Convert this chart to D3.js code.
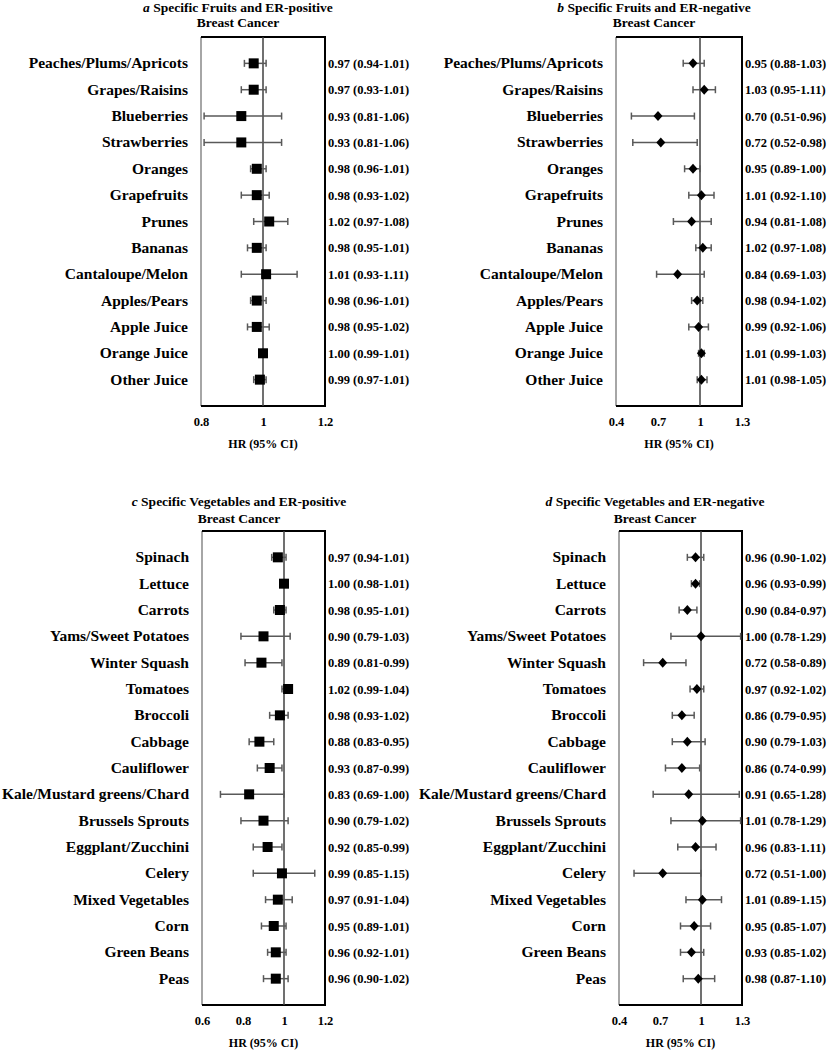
<!DOCTYPE html>
<html>
<head>
<meta charset="utf-8">
<script src="https://cdn.jsdelivr.net/npm/d3@7"></script>
<style>
  html, body { margin: 0; padding: 0; background: #fff; }
  svg text { font-family: "Liberation Serif", "Times New Roman", serif; font-weight: bold; fill: #000; }
</style>
</head>
<body>
<svg id="chart" width="827" height="1050"></svg>
<script>
// ---------- DATA ----------
const fruitLabels = ["Peaches/Plums/Apricots","Grapes/Raisins","Blueberries","Strawberries","Oranges","Grapefruits","Prunes","Bananas","Cantaloupe/Melon","Apples/Pears","Apple Juice","Orange Juice","Other Juice"];
const fruitPosHR = [0.97,0.97,0.93,0.93,0.98,0.98,1.02,0.98,1.01,0.98,0.98,1.00,0.99];
const fruitPosLo = [0.94,0.93,0.81,0.81,0.96,0.93,0.97,0.95,0.93,0.96,0.95,0.99,0.97];
const fruitPosHi = [1.01,1.01,1.06,1.06,1.01,1.02,1.08,1.01,1.11,1.01,1.02,1.01,1.01];
const fruitNegHR = [0.95,1.03,0.70,0.72,0.95,1.01,0.94,1.02,0.84,0.98,0.99,1.01,1.01];
const fruitNegLo = [0.88,0.95,0.51,0.52,0.89,0.92,0.81,0.97,0.69,0.94,0.92,0.99,0.98];
const fruitNegHi = [1.03,1.11,0.96,0.98,1.00,1.10,1.08,1.08,1.03,1.02,1.06,1.03,1.05];

const vegLabels = ["Spinach","Lettuce","Carrots","Yams/Sweet Potatoes","Winter Squash","Tomatoes","Broccoli","Cabbage","Cauliflower","Kale/Mustard greens/Chard","Brussels Sprouts","Eggplant/Zucchini","Celery","Mixed Vegetables","Corn","Green Beans","Peas"];
const vegPosHR = [0.97,1.00,0.98,0.90,0.89,1.02,0.98,0.88,0.93,0.83,0.90,0.92,0.99,0.97,0.95,0.96,0.96];
const vegPosLo = [0.94,0.98,0.95,0.79,0.81,0.99,0.93,0.83,0.87,0.69,0.79,0.85,0.85,0.91,0.89,0.92,0.90];
const vegPosHi = [1.01,1.01,1.01,1.03,0.99,1.04,1.02,0.95,0.99,1.00,1.02,0.99,1.15,1.04,1.01,1.01,1.02];
const vegNegHR = [0.96,0.96,0.90,1.00,0.72,0.97,0.86,0.90,0.86,0.91,1.01,0.96,0.72,1.01,0.95,0.93,0.98];
const vegNegLo = [0.90,0.93,0.84,0.78,0.58,0.92,0.79,0.79,0.74,0.65,0.78,0.83,0.51,0.89,0.85,0.85,0.87];
const vegNegHi = [1.02,0.99,0.97,1.29,0.89,1.02,0.95,1.03,0.99,1.28,1.29,1.11,1.00,1.15,1.07,1.02,1.10];

const ticksA = [0.8, 1, 1.2];
const ticksB = [0.4, 0.7, 1, 1.3];
const ticksC = [0.6, 0.8, 1, 1.2];
const ticksD = [0.4, 0.7, 1, 1.3];

const titleLetters = ["a","b","c","d"];
const titleLine1 = ["Specific Fruits and ER-positive","Specific Fruits and ER-negative","Specific Vegetables and ER-positive","Specific Vegetables and ER-negative"];
const titleLine2 = "Breast Cancer";
const xAxisTitle = "HR (95% CI)";

// ---------- LAYOUT ----------
const svg = d3.select("#chart");
const fmt = d3.format(".2f");

const panels = [
  {labels: fruitLabels, hr: fruitPosHR, lo: fruitPosLo, hi: fruitPosHi, ticks: ticksA, marker: "square",
   x0: 201, x1: 325, y0: 37, y1: 406, tcx: 238, t1: 12, t2: 27},
  {labels: fruitLabels, hr: fruitNegHR, lo: fruitNegLo, hi: fruitNegHi, ticks: ticksB, marker: "diamond",
   x0: 616, x1: 742, y0: 37, y1: 406, tcx: 654, t1: 12, t2: 27},
  {labels: vegLabels, hr: vegPosHR, lo: vegPosLo, hi: vegPosHi, ticks: ticksC, marker: "square",
   x0: 202, x1: 325, y0: 531, y1: 1005, tcx: 239, t1: 506, t2: 523},
  {labels: vegLabels, hr: vegNegHR, lo: vegNegLo, hi: vegNegHi, ticks: ticksD, marker: "diamond",
   x0: 619, x1: 742, y0: 531, y1: 1005, tcx: 655, t1: 506, t2: 523}
];

panels.forEach((p, pi) => {
  const g = svg.append("g");
  const dom = d3.extent(p.ticks);
  const x = d3.scaleLinear().domain(dom).range([p.x0, p.x1]);
  const idx = d3.range(-1, p.labels.length + 1);
  const y = d3.scalePoint().domain(idx).range([p.y0, p.y1]);

  // title
  const t = g.append("text").attr("x", p.tcx).attr("y", p.t1).attr("text-anchor", "middle").style("font-size", "13.5px");
  t.append("tspan").style("font-style", "italic").text(titleLetters[pi]);
  t.append("tspan").text(" " + titleLine1[pi]);
  g.append("text").attr("x", p.tcx).attr("y", p.t2).attr("text-anchor", "middle").style("font-size", "13.5px").text(titleLine2);

  // box: left grey, others black
  g.append("line").attr("x1", p.x0).attr("x2", p.x0).attr("y1", p.y0).attr("y2", p.y1)
    .attr("stroke", "#a6a6a6").attr("stroke-width", 2);
  g.append("path").attr("d", `M${p.x0},${p.y0}H${p.x1}V${p.y1}H${p.x0}`)
    .attr("fill", "none").attr("stroke", "#000").attr("stroke-width", 2);

  // reference line at HR = 1
  g.append("line").attr("x1", x(1)).attr("x2", x(1)).attr("y1", p.y0).attr("y2", p.y1)
    .attr("stroke", "#404040").attr("stroke-width", 1.5);

  const rows = p.labels.map((l, i) => ({label: l, hr: p.hr[i], lo: p.lo[i], hi: p.hi[i], i}));

  // error bars
  const eb = g.append("g").attr("stroke", "#595959").attr("stroke-width", 1.5);
  rows.forEach(r => {
    const yy = y(r.i);
    eb.append("line").attr("x1", x(r.lo)).attr("x2", x(r.hi)).attr("y1", yy).attr("y2", yy);
    eb.append("line").attr("x1", x(r.lo)).attr("x2", x(r.lo)).attr("y1", yy - 3.5).attr("y2", yy + 3.5);
    eb.append("line").attr("x1", x(r.hi)).attr("x2", x(r.hi)).attr("y1", yy - 3.5).attr("y2", yy + 3.5);
  });

  // markers
  rows.forEach(r => {
    const cx = x(r.hr), cy = y(r.i);
    if (p.marker === "square") {
      g.append("rect").attr("x", cx - 5).attr("y", cy - 5).attr("width", 10).attr("height", 10).attr("fill", "#000");
    } else {
      g.append("path").attr("d", `M${cx},${cy - 5}L${cx + 4.5},${cy}L${cx},${cy + 5}L${cx - 4.5},${cy}Z`).attr("fill", "#000");
    }
  });

  // row labels
  g.selectAll("text.lab").data(rows).join("text").attr("class", "lab")
    .attr("x", p.x0 - 13).attr("y", r => y(r.i) + 5).attr("text-anchor", "end")
    .style("font-size", "15.5px").text(r => r.label);

  // value labels
  g.selectAll("text.val").data(rows).join("text").attr("class", "val")
    .attr("x", p.x1 + 3).attr("y", r => y(r.i) + 4.5)
    .style("font-size", "12.5px").text(r => `${fmt(r.hr)} (${fmt(r.lo)}-${fmt(r.hi)})`);

  // x axis
  const ax = g.append("g").attr("transform", `translate(0,${p.y1})`)
    .call(d3.axisBottom(x).tickValues(p.ticks).tickSize(0).tickFormat(d3.format("")));
  ax.select(".domain").remove();
  ax.selectAll("text").attr("y", 20).attr("dy", 0)
    .style("font-family", '"Liberation Serif", "Times New Roman", serif')
    .style("font-weight", "bold").style("font-size", "12.5px").attr("fill", "#000");

  g.append("text").attr("x", (p.x0 + p.x1) / 2).attr("y", p.y1 + 42).attr("text-anchor", "middle")
    .style("font-size", "12px").text(xAxisTitle);
});
</script>
</body>
</html>
